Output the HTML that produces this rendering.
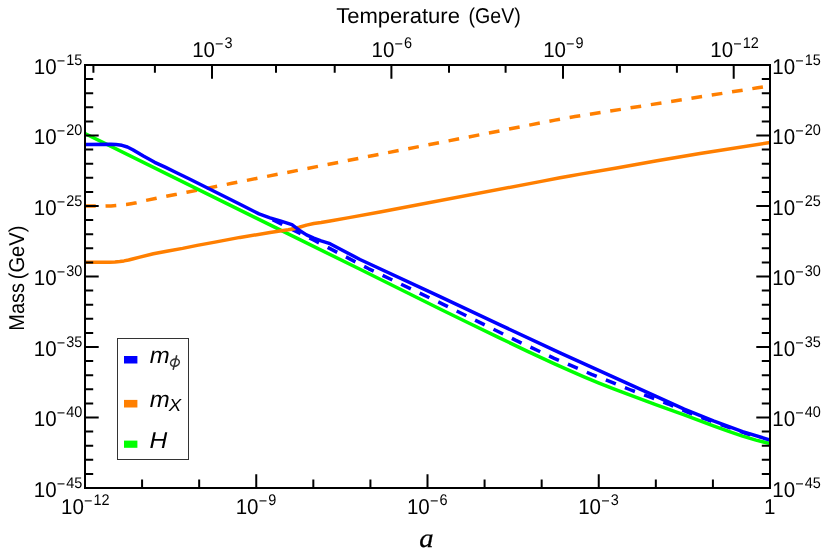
<!DOCTYPE html>
<html><head><meta charset="utf-8"><title>plot</title>
<style>html,body{margin:0;padding:0;background:#fff}svg{display:block;will-change:transform}text{font-family:"Liberation Sans",sans-serif;fill:#000;text-rendering:geometricPrecision}.it{font-style:italic}.sf{font-family:"Liberation Serif",serif;font-style:italic}</style></head><body>
<svg width="822" height="554" viewBox="0 0 822 554">
<rect width="822" height="554" fill="#fff"/>
<defs><clipPath id="c"><rect x="85" y="65" width="685" height="423"/></clipPath></defs>
<g clip-path="url(#c)" fill="none" stroke-width="3.5" stroke-linejoin="round">
<polyline stroke="#ff7f00" stroke-dasharray="10.75 9.8" points="85.0,206.0 105.0,206.1 111.0,205.9 116.0,205.5 121.0,205.1 126.2,204.6 131.0,203.8 136.4,202.8 146.0,200.4 156.5,198.3 166.3,196.2 176.7,194.3 186.8,192.2 196.7,190.4 232.0,183.3 373.4,155.5 555.0,120.1 565.0,118.3 575.0,116.6 757.6,87.8 770.0,85.8"/>
<polyline stroke="#0000ff" stroke-dasharray="10.75 9.8" points="272.6,219.7 314.5,240.5 368.8,268.8 443.2,304.3 515.9,340.4 554.2,358.3 591.6,374.3 629.6,389.5 668.3,404.0 688.0,412.4 707.2,419.7 726.5,426.6 745.0,433.2 760.0,437.5"/>
<polyline stroke="#00ff00" points="85.0,133.6 270.0,224.9 360.0,269.3 440.0,309.0 469.2,323.3 498.4,337.4 527.6,351.3 540.0,357.2 554.0,363.7 569.2,370.4 584.0,376.8 598.4,382.8 613.0,388.6 627.6,394.2 655.0,404.3 684.2,414.9 713.4,425.9 728.0,431.1 742.6,436.1 756.0,440.1 770.0,443.6"/>
<polyline stroke="#ff7f00" points="85.0,262.2 109.6,262.2 115.0,262.0 119.8,261.5 124.0,260.9 128.6,260.0 133.5,258.8 138.8,257.4 153.4,253.8 168.0,251.0 182.6,248.4 197.2,245.4 215.0,242.1 240.0,237.4 270.0,232.6 288.2,229.8 294.0,228.7 299.2,227.3 306.5,225.1 313.8,223.5 321.1,222.5 330.0,221.0 349.0,217.6 380.0,212.0 540.0,181.6 560.0,177.8 570.0,176.0 579.0,174.4 618.0,167.7 657.0,160.8 700.0,153.5 770.0,142.5"/>
<polyline stroke="#0000ff" points="85.0,144.4 110.9,144.3 116.0,144.6 121.9,145.3 127.4,147.0 132.8,149.7 138.3,153.0 143.8,156.3 149.3,159.3 154.7,162.3 165.7,167.4 176.6,172.7 190.0,179.3 240.0,204.2 259.0,213.9 270.0,217.8 281.0,221.2 291.9,224.7 299.2,230.2 306.5,234.9 313.8,238.2 321.1,240.8 330.0,243.7 360.0,259.5 440.0,296.6 500.0,324.9 560.0,352.8 655.0,395.9 684.2,409.1 713.4,420.8 742.6,431.7 770.0,440.0"/>
</g>
<path d="M85.0 65.00h13.7M770.0 65.00h-13.7M85.0 79.10h8.2M770.0 79.10h-8.2M85.0 93.20h8.2M770.0 93.20h-8.2M85.0 107.30h8.2M770.0 107.30h-8.2M85.0 121.40h8.2M770.0 121.40h-8.2M85.0 135.50h13.7M770.0 135.50h-13.7M85.0 149.60h8.2M770.0 149.60h-8.2M85.0 163.70h8.2M770.0 163.70h-8.2M85.0 177.80h8.2M770.0 177.80h-8.2M85.0 191.90h8.2M770.0 191.90h-8.2M85.0 206.00h13.7M770.0 206.00h-13.7M85.0 220.10h8.2M770.0 220.10h-8.2M85.0 234.20h8.2M770.0 234.20h-8.2M85.0 248.30h8.2M770.0 248.30h-8.2M85.0 262.40h8.2M770.0 262.40h-8.2M85.0 276.50h13.7M770.0 276.50h-13.7M85.0 290.60h8.2M770.0 290.60h-8.2M85.0 304.70h8.2M770.0 304.70h-8.2M85.0 318.80h8.2M770.0 318.80h-8.2M85.0 332.90h8.2M770.0 332.90h-8.2M85.0 347.00h13.7M770.0 347.00h-13.7M85.0 361.10h8.2M770.0 361.10h-8.2M85.0 375.20h8.2M770.0 375.20h-8.2M85.0 389.30h8.2M770.0 389.30h-8.2M85.0 403.40h8.2M770.0 403.40h-8.2M85.0 417.50h13.7M770.0 417.50h-13.7M85.0 431.60h8.2M770.0 431.60h-8.2M85.0 445.70h8.2M770.0 445.70h-8.2M85.0 459.80h8.2M770.0 459.80h-8.2M85.0 473.90h8.2M770.0 473.90h-8.2M85.0 488.00h13.7M770.0 488.00h-13.7M85.00 488.0v-13.8M142.08 488.0v-8.6M199.17 488.0v-8.6M256.25 488.0v-13.8M313.33 488.0v-8.6M370.42 488.0v-8.6M427.50 488.0v-13.8M484.58 488.0v-8.6M541.67 488.0v-8.6M598.75 488.0v-13.8M655.83 488.0v-8.6M712.92 488.0v-8.6M770.00 488.0v-13.8M212.0 65.0v13.8M391.4 65.0v13.8M563.0 65.0v13.8M733.7 65.0v13.8M93.4 65.0v7.8M154.9 65.0v7.8M276.0 65.0v7.8M334.7 65.0v7.8M449.0 65.0v7.8M505.6 65.0v7.8M619.9 65.0v7.8M676.9 65.0v7.8" stroke="#000" stroke-width="2" fill="none"/>
<rect x="85" y="65" width="685" height="423" fill="none" stroke="#000" stroke-width="2"/>
<text transform="translate(56.60,73.50) scale(0.955,1)" font-size="21.5" text-anchor="end">10</text><text transform="translate(56.70,64.80) scale(0.94,1)" font-size="15.4"><tspan dy="1.0">−</tspan><tspan dy="-1.0" dx="1.1">15</tspan></text>
<text transform="translate(795.20,73.50) scale(0.955,1)" font-size="21.5" text-anchor="end">10</text><text transform="translate(795.30,64.80) scale(0.94,1)" font-size="15.4"><tspan dy="1.0">−</tspan><tspan dy="-1.0" dx="1.1">15</tspan></text>
<text transform="translate(56.60,144.00) scale(0.955,1)" font-size="21.5" text-anchor="end">10</text><text transform="translate(56.70,135.30) scale(0.94,1)" font-size="15.4"><tspan dy="1.0">−</tspan><tspan dy="-1.0" dx="1.1">20</tspan></text>
<text transform="translate(795.20,144.00) scale(0.955,1)" font-size="21.5" text-anchor="end">10</text><text transform="translate(795.30,135.30) scale(0.94,1)" font-size="15.4"><tspan dy="1.0">−</tspan><tspan dy="-1.0" dx="1.1">20</tspan></text>
<text transform="translate(56.60,214.50) scale(0.955,1)" font-size="21.5" text-anchor="end">10</text><text transform="translate(56.70,205.80) scale(0.94,1)" font-size="15.4"><tspan dy="1.0">−</tspan><tspan dy="-1.0" dx="1.1">25</tspan></text>
<text transform="translate(795.20,214.50) scale(0.955,1)" font-size="21.5" text-anchor="end">10</text><text transform="translate(795.30,205.80) scale(0.94,1)" font-size="15.4"><tspan dy="1.0">−</tspan><tspan dy="-1.0" dx="1.1">25</tspan></text>
<text transform="translate(56.60,285.00) scale(0.955,1)" font-size="21.5" text-anchor="end">10</text><text transform="translate(56.70,276.30) scale(0.94,1)" font-size="15.4"><tspan dy="1.0">−</tspan><tspan dy="-1.0" dx="1.1">30</tspan></text>
<text transform="translate(795.20,285.00) scale(0.955,1)" font-size="21.5" text-anchor="end">10</text><text transform="translate(795.30,276.30) scale(0.94,1)" font-size="15.4"><tspan dy="1.0">−</tspan><tspan dy="-1.0" dx="1.1">30</tspan></text>
<text transform="translate(56.60,355.50) scale(0.955,1)" font-size="21.5" text-anchor="end">10</text><text transform="translate(56.70,346.80) scale(0.94,1)" font-size="15.4"><tspan dy="1.0">−</tspan><tspan dy="-1.0" dx="1.1">35</tspan></text>
<text transform="translate(795.20,355.50) scale(0.955,1)" font-size="21.5" text-anchor="end">10</text><text transform="translate(795.30,346.80) scale(0.94,1)" font-size="15.4"><tspan dy="1.0">−</tspan><tspan dy="-1.0" dx="1.1">35</tspan></text>
<text transform="translate(56.60,426.00) scale(0.955,1)" font-size="21.5" text-anchor="end">10</text><text transform="translate(56.70,417.30) scale(0.94,1)" font-size="15.4"><tspan dy="1.0">−</tspan><tspan dy="-1.0" dx="1.1">40</tspan></text>
<text transform="translate(795.20,426.00) scale(0.955,1)" font-size="21.5" text-anchor="end">10</text><text transform="translate(795.30,417.30) scale(0.94,1)" font-size="15.4"><tspan dy="1.0">−</tspan><tspan dy="-1.0" dx="1.1">40</tspan></text>
<text transform="translate(56.60,496.50) scale(0.955,1)" font-size="21.5" text-anchor="end">10</text><text transform="translate(56.70,487.80) scale(0.94,1)" font-size="15.4"><tspan dy="1.0">−</tspan><tspan dy="-1.0" dx="1.1">45</tspan></text>
<text transform="translate(795.20,496.50) scale(0.955,1)" font-size="21.5" text-anchor="end">10</text><text transform="translate(795.30,487.80) scale(0.94,1)" font-size="15.4"><tspan dy="1.0">−</tspan><tspan dy="-1.0" dx="1.1">45</tspan></text>
<text transform="translate(83.90,513.90) scale(0.955,1)" font-size="21.5" text-anchor="end">10</text><text transform="translate(84.00,505.20) scale(0.94,1)" font-size="15.4"><tspan dy="1.0">−</tspan><tspan dy="-1.0" dx="1.1">12</tspan></text>
<text transform="translate(258.55,513.90) scale(0.955,1)" font-size="21.5" text-anchor="end">10</text><text transform="translate(258.65,505.20) scale(0.94,1)" font-size="15.4"><tspan dy="1.0">−</tspan><tspan dy="-1.0" dx="1.1">9</tspan></text>
<text transform="translate(429.80,513.90) scale(0.955,1)" font-size="21.5" text-anchor="end">10</text><text transform="translate(429.90,505.20) scale(0.94,1)" font-size="15.4"><tspan dy="1.0">−</tspan><tspan dy="-1.0" dx="1.1">6</tspan></text>
<text transform="translate(601.05,513.90) scale(0.955,1)" font-size="21.5" text-anchor="end">10</text><text transform="translate(601.15,505.20) scale(0.94,1)" font-size="15.4"><tspan dy="1.0">−</tspan><tspan dy="-1.0" dx="1.1">3</tspan></text>
<text transform="translate(769.80,513.9) scale(0.955,1)" font-size="21.5" text-anchor="middle">1</text>
<text transform="translate(215.00,56.90) scale(0.955,1)" font-size="21.5" text-anchor="end">10</text><text transform="translate(215.10,48.20) scale(0.94,1)" font-size="15.4"><tspan dy="1.0">−</tspan><tspan dy="-1.0" dx="1.1">3</tspan></text>
<text transform="translate(394.40,56.90) scale(0.955,1)" font-size="21.5" text-anchor="end">10</text><text transform="translate(394.50,48.20) scale(0.94,1)" font-size="15.4"><tspan dy="1.0">−</tspan><tspan dy="-1.0" dx="1.1">6</tspan></text>
<text transform="translate(566.00,56.90) scale(0.955,1)" font-size="21.5" text-anchor="end">10</text><text transform="translate(566.10,48.20) scale(0.94,1)" font-size="15.4"><tspan dy="1.0">−</tspan><tspan dy="-1.0" dx="1.1">9</tspan></text>
<text transform="translate(733.20,56.90) scale(0.955,1)" font-size="21.5" text-anchor="end">10</text><text transform="translate(733.30,48.20) scale(0.94,1)" font-size="15.4"><tspan dy="1.0">−</tspan><tspan dy="-1.0" dx="1.1">12</tspan></text>
<text x="336.2" y="22.8" font-size="21.5" textLength="123.8" lengthAdjust="spacingAndGlyphs">Temperature</text>
<text x="468.6" y="22.8" font-size="21.5" textLength="52.2" lengthAdjust="spacingAndGlyphs">(GeV)</text>
<text transform="translate(23.8,330.7) rotate(-90)" font-size="21.5" textLength="47.6" lengthAdjust="spacingAndGlyphs">Mass</text>
<text transform="translate(23.8,279.2) rotate(-90)" font-size="21.5" textLength="53.6" lengthAdjust="spacingAndGlyphs">(GeV)</text>
<text transform="translate(426.4,547.4) scale(1.07,1)" font-size="26.8" text-anchor="middle" class="sf" stroke="#000" stroke-width="0.25">a</text>
<rect x="117.5" y="338.5" width="71" height="121" fill="#fff" stroke="#333" stroke-width="1"/>
<rect x="124" y="356" width="13.4" height="7.5" fill="#0000ff"/>
<rect x="124" y="399.9" width="13.4" height="7.6" fill="#ff7f00"/>
<rect x="124" y="440.6" width="13.4" height="7.2" fill="#00ff00"/>
<text transform="translate(149.7,362.7) scale(1.04,1)" font-size="23" class="it" fill="#333">m</text>
<text transform="translate(149.7,406.6) scale(1.04,1)" font-size="23" class="it" fill="#333">m</text>
<text transform="translate(168.8,411.2) scale(1.06,1)" font-size="17.6" class="it" fill="#333">X</text>
<text transform="translate(149.5,447.6) scale(1.07,1)" font-size="23" class="it" fill="#333">H</text>
<g stroke="#333" fill="none" stroke-width="1.5"><ellipse cx="174.95" cy="362.6" rx="4.5" ry="3.55" transform="rotate(-20 174.95 362.6)"/><path d="M176.75 355.3L173.15 369.9"/></g>
</svg></body></html>
